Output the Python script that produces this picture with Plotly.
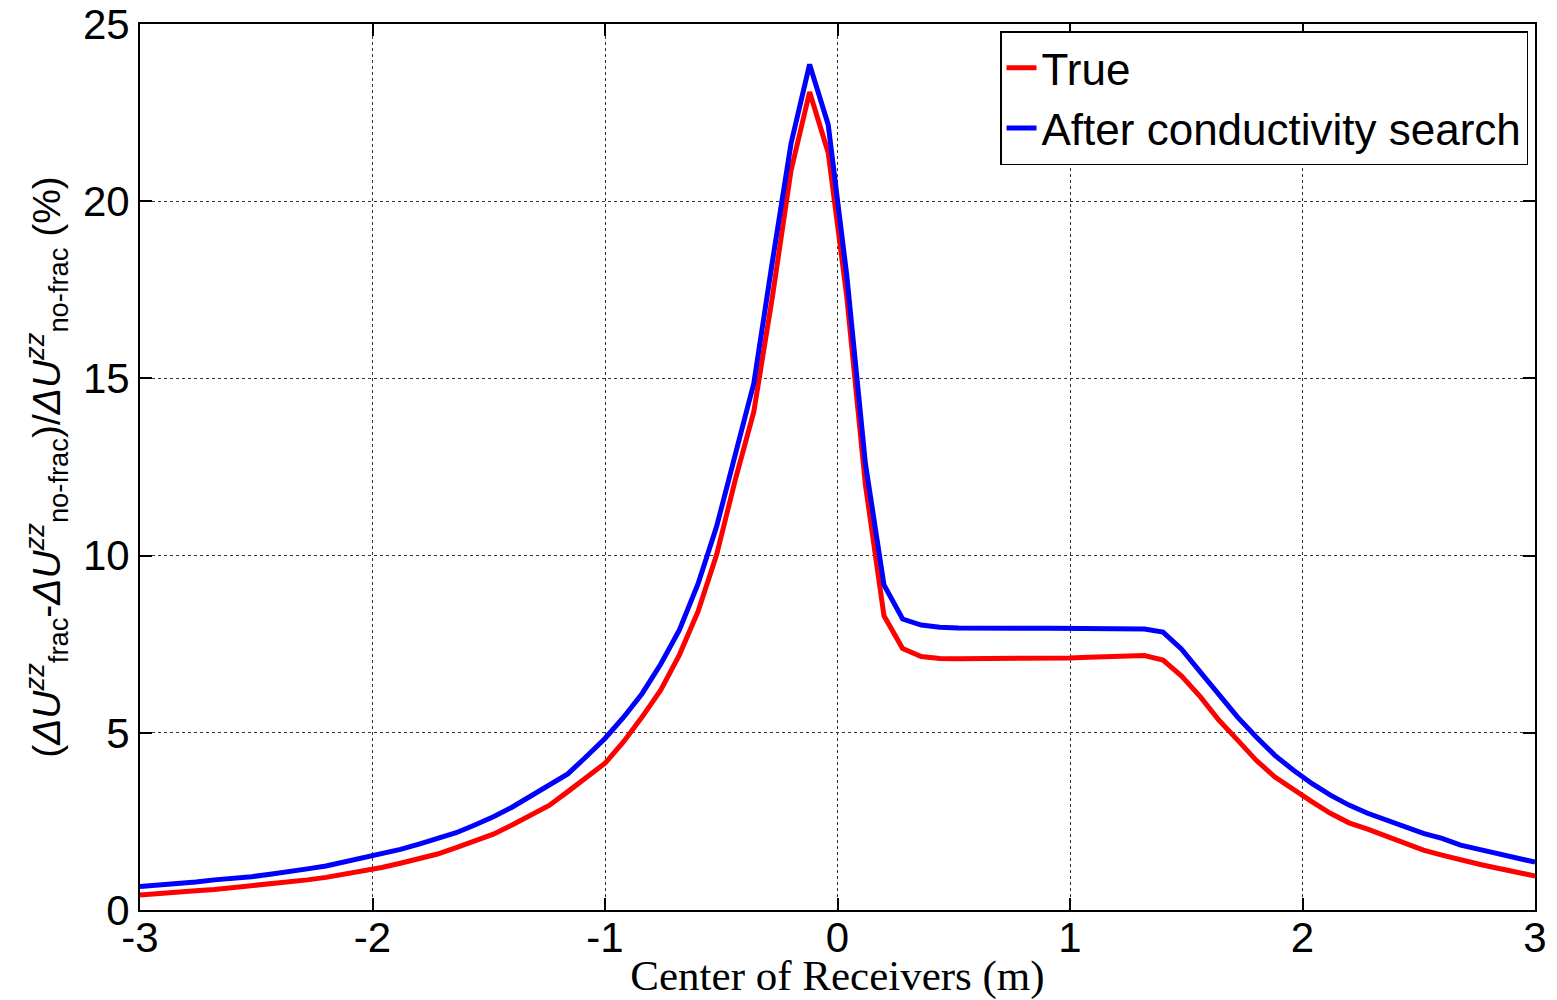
import plotly.graph_objects as go

x_pos = [round(-3 + 0.08 * i, 2) for i in range(76)]

true_vals = [0.42, 0.45, 0.49, 0.54, 0.58, 0.63, 0.68, 0.72, 0.78, 0.85,
             0.92, 1.01, 1.10, 1.20, 1.32, 1.44, 1.58, 1.76, 1.95, 2.14,
             2.40, 2.68, 2.95, 3.34, 3.72, 4.14, 4.75, 5.45, 6.21, 7.20,
             8.42, 10.02, 12.13, 14.06, 17.3, 20.86, 23.08, 21.37, 17.3, 12.0,
             8.30, 7.38, 7.15, 7.10, 7.09, 7.09, 7.09, 7.09, 7.09, 7.10,
             7.11, 7.13, 7.15, 7.17, 7.18, 7.05, 6.60, 6.02, 5.36, 4.80,
             4.23, 3.76, 3.39, 3.06, 2.73, 2.46, 2.28, 2.09, 1.90, 1.69,
             1.55, 1.41, 1.29, 1.18, 1.08, 0.96]

search_vals = [0.66, 0.70, 0.73, 0.79, 0.85, 0.89, 0.94, 1.01, 1.07, 1.16,
               1.24, 1.35, 1.47, 1.58, 1.71, 1.86, 2.02, 2.18, 2.40, 2.63,
               2.90, 3.20, 3.50, 3.84, 4.33, 4.84, 5.44, 6.11, 6.94, 7.90,
               9.20, 10.82, 12.84, 14.86, 18.3, 21.62, 23.86, 22.16, 17.9, 12.6,
               9.17, 8.21, 8.04, 7.98, 7.96, 7.95, 7.95, 7.95, 7.95, 7.95,
               7.95, 7.95, 7.95, 7.95, 7.93, 7.84, 7.36, 6.72, 6.07, 5.45,
               4.89, 4.37, 3.95, 3.57, 3.24, 2.96, 2.73, 2.54, 2.35, 2.16,
               2.02, 1.83, 1.71, 1.60, 1.46, 1.35]

x_ticks = [-3, -2, -1, 0, 1, 2, 3]
y_ticks = [0, 5, 10, 15, 20, 25]

fig = go.Figure()
fig.add_trace(go.Scatter(x=x_pos, y=true_vals, mode="lines", name="True",
                         line=dict(color="#ff0000", width=5)))
fig.add_trace(go.Scatter(x=x_pos, y=search_vals, mode="lines",
                         name="After conductivity search",
                         line=dict(color="#0000ff", width=5)))

ytitle = ("(<i>ΔU</i><sup><i>zz</i></sup><sub>frac</sub>-<i>ΔU</i><sup><i>zz</i></sup>"
          "<sub>no-frac</sub>)/<i>ΔU</i><sup><i>zz</i></sup><sub>no-frac</sub> (%)")

axis_common = dict(showline=True, linecolor="black", linewidth=2, mirror="ticks",
                   ticks="inside", ticklen=12, tickwidth=1.5, tickcolor="black",
                   showgrid=True, gridcolor="#333333", griddash="dot", gridwidth=1,
                   zeroline=False, automargin=False,
                   tickfont=dict(family="Liberation Sans, Arial", size=42, color="black"))

fig.update_xaxes(range=[-3, 3], tickvals=x_ticks, ticktext=[str(v) for v in x_ticks],
                 title=dict(text="Center of Receivers (m)",
                            font=dict(family="Liberation Serif, Times New Roman", size=43, color="black"),
                            standoff=5),
                 ticklabelstandoff=-10,
                 **axis_common)
fig.update_yaxes(range=[0, 25], tickvals=y_ticks, ticktext=[str(v) for v in y_ticks],
                 title=dict(text=ytitle,
                            font=dict(family="Liberation Sans, Arial", size=39, color="black"),
                            standoff=10),
                 **axis_common)

fig.update_layout(
    width=1557, height=1000,
    margin=dict(l=140, r=22, t=24, b=90),
    paper_bgcolor="white", plot_bgcolor="white",
    showlegend=True,
    legend=dict(x=0.995, y=0.992, xanchor="right", yanchor="top",
                bgcolor="white", bordercolor="black", borderwidth=1.5,
                font=dict(family="Liberation Sans, Arial", size=44, color="black"),
                itemwidth=30, tracegroupgap=0),
)

fig.write_html("out.html")
